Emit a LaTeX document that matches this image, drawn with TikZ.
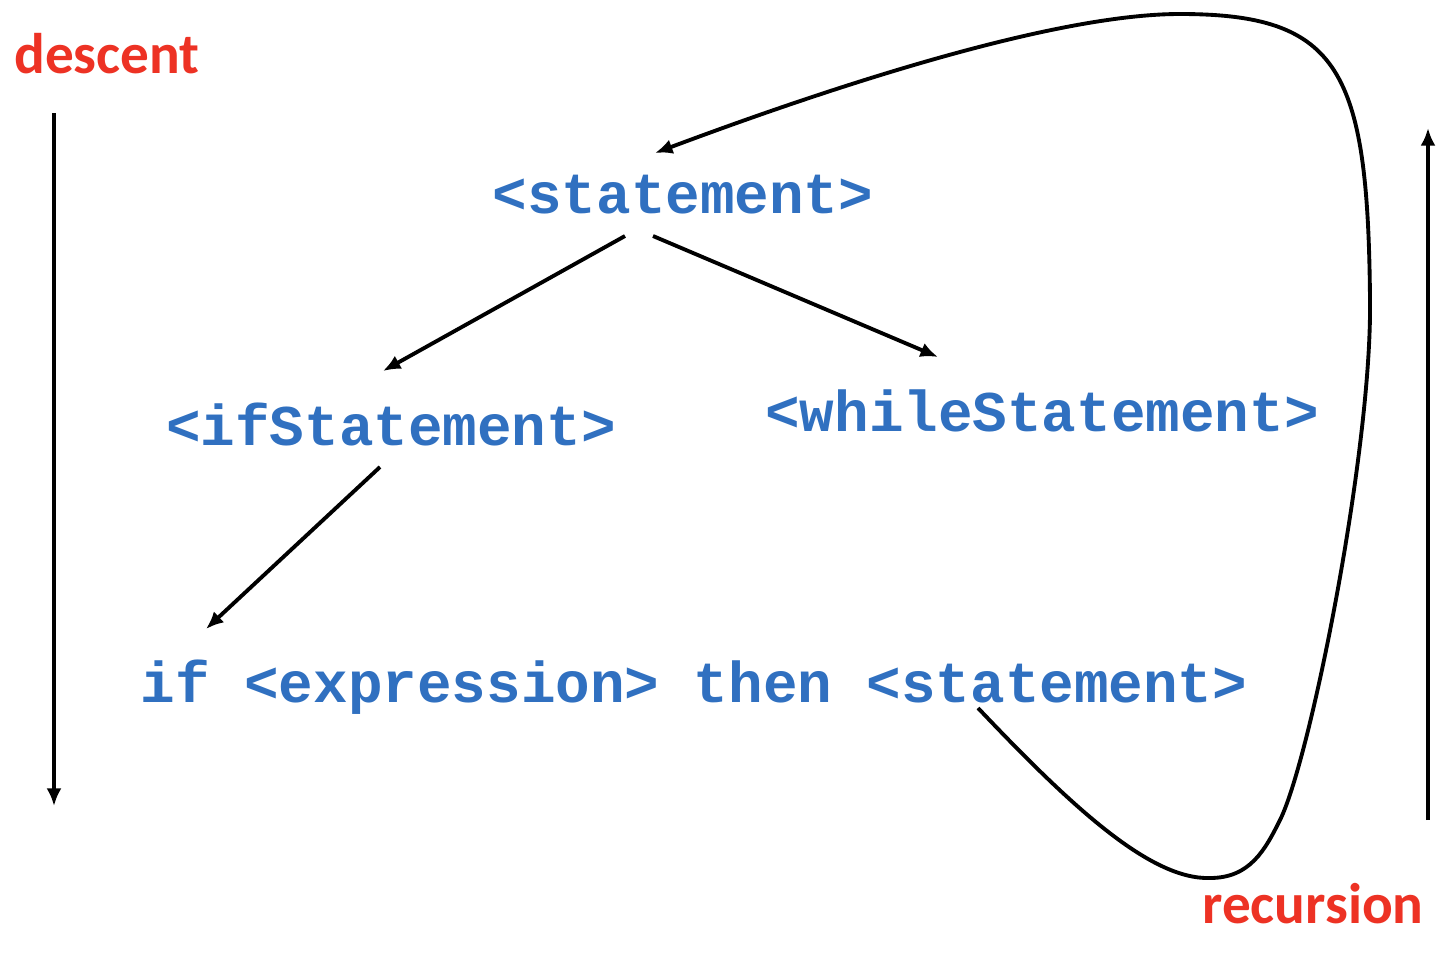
\documentclass[tikz,border=0pt]{standalone}
\usepackage{fontspec}
\usepackage{xcolor}
\usetikzlibrary{arrows.meta}
\setmonofont{Liberation Mono}
\newfontfamily\labelfont{Carlito}
\definecolor{codeblue}{RGB}{48,112,192}
\definecolor{notered}{RGB}{237,50,36}

\begin{document}
\begin{tikzpicture}[x=0.02cm,y=-0.02cm,
    code/.style={anchor=base,inner sep=0pt,text=codeblue,font=\ttfamily\bfseries\fontsize{32.8}{39}\selectfont},
    note/.style={anchor=base,inner sep=0pt,text=notered,font=\labelfont\bfseries\fontsize{32.6}{39}\selectfont},
    link/.style={line width=2.2pt,-{Latex[length=10pt,width=8.5pt]}}]
    \useasboundingbox (0,0) rectangle (1450,960);
    % labels
    \node[note] (descent) at (107,73) {descent};
    \node[note] (recursion) at (1313,923) {recursion};
    % grammar tree
    \node[code] (stmt) at (683,213) {<statement>};
    \node[code] (ifst) at (391,445) {<ifStatement>};
    \node[code] (whilest) at (1042,431) {<whileStatement>};
    \node[code] (rule) at (694,702) {if <expression> then <statement>};
    \coordinate (stmtL) at (625,236);
    \coordinate (stmtR) at (653,236);
    \coordinate (ifstIn) at (383,371);
    \coordinate (whileIn) at (938,357);
    \coordinate (ifstOut) at (380,467);
    \coordinate (ruleIn) at (206,629);
    \coordinate (inner) at (978,708);
    \coordinate (stmtIn) at (655,153);
    \draw[link] (stmtL) -- (ifstIn);
    \draw[link] (stmtR) -- (whileIn);
    \draw[link] (ifstOut) -- (ruleIn);
    % recursion loop
    \draw[link] (inner) .. controls (1070,805) and (1150,880) .. (1210,878)
        .. controls (1250,878) and (1265,850) .. (1280,820)
        .. controls (1310,760) and (1372,450) .. (1370,300)
        .. controls (1368,70) and (1340,14) .. (1180,14)
        .. controls (1060,14) and (850,80) .. (stmtIn);
    % direction arrows
    \coordinate (downTop) at (54,113);
    \coordinate (downEnd) at (54,806);
    \coordinate (upBot) at (1428,820);
    \coordinate (upEnd) at (1428,128);
    \draw[link] (downTop) -- (downEnd);
    \draw[link] (upBot) -- (upEnd);
\end{tikzpicture}
\end{document}
